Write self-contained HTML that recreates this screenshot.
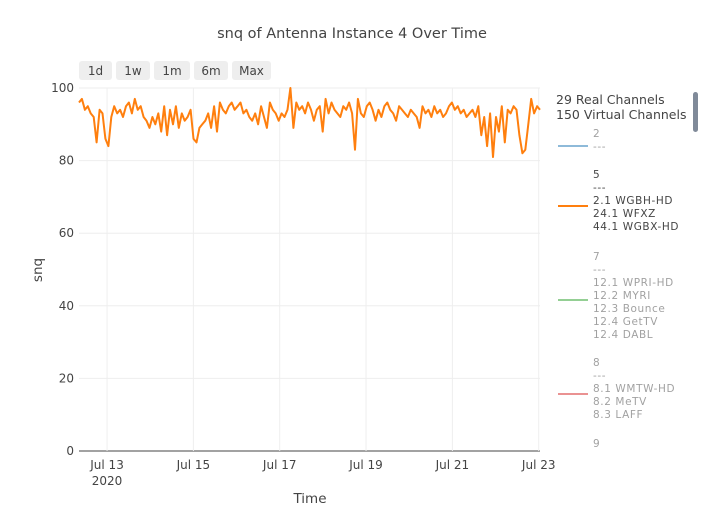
<!DOCTYPE html>
<html><head><meta charset="utf-8"><style>
body{margin:0;background:#fff;font-family:"DejaVu Sans","Liberation Sans",sans-serif;}
svg text{fill:#444;}
.btn rect{fill:#eeeeee;}
.lg{font-size:10.5px;letter-spacing:0.6px;}
.off{opacity:0.5;}
</style></head><body>
<svg id="chart" width="716" height="524">
<text x="352" y="38" text-anchor="middle" font-size="14.5">snq of Antenna Instance 4 Over Time</text>
<g id="grid"></g>
<g id="btns"></g>
<g id="yticks" font-size="12"></g>
<g id="xticks" font-size="12"></g>
<path id="series" fill="none" stroke="#ff7f0e" stroke-width="2" stroke-linejoin="round"></path>
<text transform="translate(42,270) rotate(-90)" text-anchor="middle" font-size="13.5">snq</text>
<text x="310" y="503" text-anchor="middle" font-size="13.5">Time</text>
<g>
<text x="556" y="104" font-size="12.5">29 Real Channels</text>
<text x="556" y="119" font-size="12.5">150 Virtual Channels</text>
<rect x="693" y="92" width="5" height="40" rx="2.5" fill="#808a99"/>
<g class="lg off">
<line x1="558" x2="588" y1="146" y2="146" stroke="#1f77b4" stroke-width="2"/>
<text x="593" y="137">2</text><text x="593" y="150">---</text></g>
<g class="lg">
<line x1="558" x2="588" y1="206" y2="206" stroke="#ff7f0e" stroke-width="2"/>
<text x="593" y="178">5</text><text x="593" y="191">---</text><text x="593" y="204">2.1 WGBH-HD</text><text x="593" y="217">24.1 WFXZ</text><text x="593" y="230">44.1 WGBX-HD</text></g>
<g class="lg off">
<line x1="558" x2="588" y1="300" y2="300" stroke="#2ca02c" stroke-width="2"/>
<text x="593" y="260">7</text><text x="593" y="273">---</text><text x="593" y="286">12.1 WPRI-HD</text><text x="593" y="299">12.2 MYRI</text><text x="593" y="312">12.3 Bounce</text><text x="593" y="325">12.4 GetTV</text><text x="593" y="338">12.4 DABL</text></g>
<g class="lg off">
<line x1="558" x2="588" y1="394" y2="394" stroke="#d62728" stroke-width="2"/>
<text x="593" y="366">8</text><text x="593" y="379">---</text><text x="593" y="392">8.1 WMTW-HD</text><text x="593" y="405">8.2 MeTV</text><text x="593" y="418">8.3 LAFF</text></g>
<g class="lg off"><text x="593" y="447">9</text></g>
</g>
</svg>
<script>
const snqValues=[96,97,94,95,93,92,85,94,93,86,
84,92,95,93,94,92,95,96,93,97,
94,95,92,91,89,92,90,93,88,95,
87,94,90,95,89,93,91,92,94,86,
85,89,90,91,93,89,95,88,96,94,
93,95,96,94,95,96,93,94,92,91,
93,90,95,92,89,96,94,93,91,93,
92,94,100,89,96,94,95,93,96,94,
91,94,95,88,97,93,96,94,93,92,
95,94,96,93,83,97,93,92,95,96,
94,91,94,92,95,96,94,93,91,95,
94,93,92,94,93,92,89,95,93,94,
92,95,93,94,92,93,95,96,94,95,
93,94,92,93,94,92,95,87,92,84,
93,81,92,88,95,85,94,93,95,94,
87,82,83,90,97,93,95,94];
const startDay=12.35, endDay=23.03;
const yTicks=[0,20,40,60,80,100];
const xTickDays=[13,15,17,19,21,23];
const xTickLabels=["Jul 13","Jul 15","Jul 17","Jul 19","Jul 21","Jul 23"];
const buttonLabels=["1d","1w","1m","6m","Max"];
const NS="http://www.w3.org/2000/svg";
const L=79,R=540,T=88,B=451;
const xs=d=>L+(d-startDay)/(endDay-startDay)*(R-L);
const ys=v=>B-v/100*(B-T);
function mk(tag,attrs,parent){const e=document.createElementNS(NS,tag);for(const k in attrs)e.setAttribute(k,attrs[k]);parent.appendChild(e);return e;}
const grid=document.getElementById('grid');
yTicks.forEach(v=>{
 const ln=mk('line',{x1:L,x2:R,y1:ys(v),y2:ys(v),stroke:v===0?'#444':'#eee','stroke-width':1},grid);
 
 
 const t=mk('text',{x:74,y:ys(v)+4,'text-anchor':'end'},document.getElementById('yticks'));
 t.textContent=v;
 
 
});
xTickDays.forEach((d,i)=>{
 const ln=mk('line',{x1:xs(d),x2:xs(d),y1:T,y2:B,stroke:'#eee'},grid);
 
 
 const t=mk('text',{x:xs(d),y:469,'text-anchor':'middle'},document.getElementById('xticks'));
 t.textContent=xTickLabels[i];
 
 
});
const yr=mk('text',{x:xs(13),y:485,'text-anchor':'middle'},document.getElementById('xticks'));
yr.textContent="2020";


const bx=[79,116,154,194,232],bw=[33,34,36,34,39];
buttonLabels.forEach((b,i)=>{
 const g=mk('g',{class:'btn'},document.getElementById('btns'));
 
 
 mk('rect',{x:bx[i],y:61,width:bw[i],height:19,rx:3},g);
 const t=mk('text',{x:bx[i]+bw[i]/2,y:75,'text-anchor':'middle','font-size':12},g);
 t.textContent=b;
});
const n=snqValues.length;
let d='';
snqValues.forEach((v,i)=>{const day=startDay+i*(endDay-startDay)/(n-1);d+=(i?'L':'M')+xs(day).toFixed(1)+','+ys(v).toFixed(1);});
document.getElementById('series').setAttribute('d',d);
</script>
</body></html>
